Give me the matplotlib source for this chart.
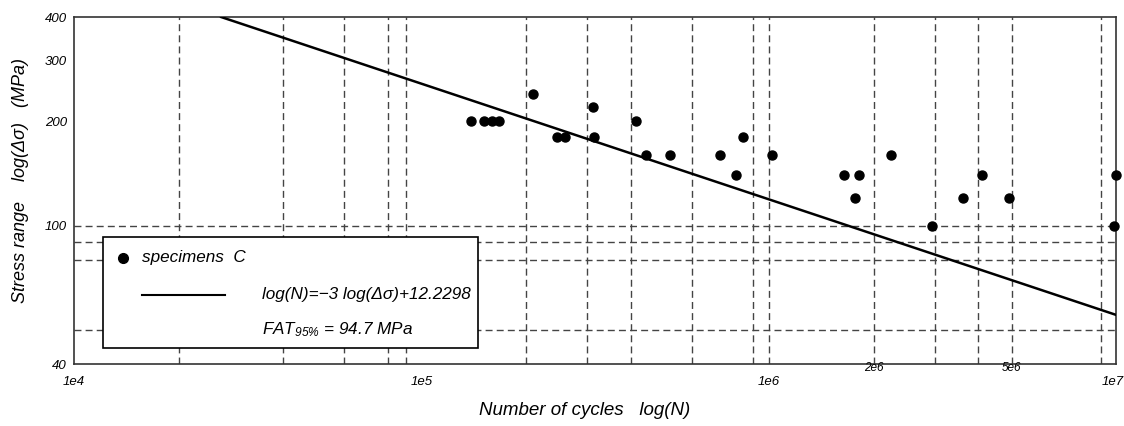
import numpy as np
import matplotlib
matplotlib.use("Agg")
import matplotlib.pyplot as plt
from matplotlib.patches import Rectangle
from matplotlib.transforms import blended_transform_factory

plt.rcParams['font.family'] = ['Liberation Sans', 'DejaVu Sans']
plt.rcParams['font.style'] = 'italic'
plt.rcParams['mathtext.fontset'] = 'custom'
plt.rcParams['mathtext.it'] = 'Liberation Sans:italic'
plt.rcParams['mathtext.rm'] = 'Liberation Sans:italic'

# test results: cycles to failure and stress range (MPa)
cycles = [1.39e5, 1.51e5, 1.60e5, 1.67e5, 2.09e5, 2.45e5, 2.59e5, 3.12e5, 3.14e5,
          4.13e5, 4.42e5, 5.18e5, 7.23e5, 8.04e5, 8.42e5, 1.02e6, 1.64e6, 1.77e6,
          1.81e6, 2.25e6, 2.94e6, 3.62e6, 4.09e6, 4.91e6, 9.85e6, 1.0e7]
stress = [200, 200, 200, 200, 240, 180, 180, 220, 180,
          200, 160, 160, 160, 140, 180, 160, 140, 120,
          140, 160, 100, 120, 140, 120, 100, 140]

# fitted S-N curve: log(N) = slope*log(ds) + intercept
slope = -3
intercept = 12.2298
fat95 = 94.7

# dashed reference lines
n_grid = [2e4, 4e4, 6e4, 8e4, 9e4, 2e5, 3e5, 4e5, 6e5, 9e5, 1e6, 2e6, 3e6, 4e6, 5e6, 9e6]
s_grid = [50, 80, 90, 100]

x_major = [1e4, 1e5, 1e6, 1e7]
x_major_labels = ['1e4', '1e5', '1e6', '1e7']
x_minor = [2e6, 5e6]
x_minor_labels = ['2e6', '5e6']
y_ticks = [40, 100, 200, 300, 400]
y_labels = ['40', '100', '200', '300', '400']

fig = plt.figure(figsize=(11.24, 4.26), dpi=100)
ax = fig.add_axes([0.0658, 0.1455, 0.9275, 0.8145])
ax.set_xscale('log')
ax.set_yscale('log')
ax.set_xlim(1e4, 1e7)
ax.set_ylim(40, 400)

for n in n_grid:
    ax.axvline(n, color='#444444', lw=1.0, dashes=(5, 3), zorder=1)
for s in s_grid:
    ax.axhline(s, color='#444444', lw=1.0, dashes=(5, 3), zorder=1)

# S-N line from the top of the plot down to 1e7 cycles
n_start = 10 ** (intercept + slope * np.log10(400))
n_line = np.logspace(np.log10(n_start), 7, 50)
s_line = 10 ** ((np.log10(n_line) - intercept) / slope)
ax.plot(n_line, s_line, color='black', lw=1.8, zorder=3)

ax.plot(cycles, stress, 'o', color='black', ms=6.5, zorder=4, clip_on=False)

for sp in ax.spines.values():
    sp.set_color('#333333')
    sp.set_linewidth(1.2)

ax.xaxis.set_major_locator(matplotlib.ticker.NullLocator())
ax.xaxis.set_minor_locator(matplotlib.ticker.NullLocator())
ax.set_yticks(y_ticks)
ax.set_yticklabels(y_labels)
ax.yaxis.set_minor_locator(matplotlib.ticker.NullLocator())
ax.tick_params(axis='y', length=0, pad=5, labelsize=9.5)
for lab in ax.get_yticklabels():
    lab.set_fontstyle('italic')

trans = blended_transform_factory(ax.transData, ax.transAxes)
for n, lab in zip(x_major, x_major_labels):
    ha = 'right' if n == x_major[-1] else 'center'
    dx = 7 if n == x_major[-1] else 0
    ax.annotate(lab, (n, -0.052), xycoords=trans, xytext=(dx * 0.72, 0),
                textcoords='offset points', ha=ha, va='center', fontsize=9.5)
for n, lab in zip(x_minor, x_minor_labels):
    ax.text(n, -0.012, lab, transform=trans, ha='center', va='center', fontsize=8.5)

fig.text(0.52, 0.037, 'Number of cycles   log(N)', ha='center', va='center', fontsize=13.5)
fig.text(0.018, 0.577, 'Stress range    log(\u0394\u03c3)   (MPa)', ha='center', va='center',
         rotation=90, fontsize=13)

# legend box drawn by hand
ax.add_patch(Rectangle((0.0278, 0.046), 0.36, 0.32, transform=ax.transAxes,
                       facecolor='white', edgecolor='black', lw=1.2, zorder=5))
ax.plot([0.0472], [0.3065], 'o', color='black', ms=7, transform=ax.transAxes, zorder=6)
ax.text(0.065, 0.3065, 'specimens  C', transform=ax.transAxes, va='center', fontsize=12.3, zorder=6)
ax.plot([0.065, 0.145], [0.2, 0.2], color='black', lw=1.5, transform=ax.transAxes, zorder=6)
ax.text(0.18, 0.2, 'log(N)=\u22123 log(\u0394\u03c3)+12.2298', transform=ax.transAxes,
        va='center', fontsize=12.3, zorder=6)
ax.text(0.18, 0.1, r'$FAT_{95\%}$' + ' = %.1f MPa' % fat95, transform=ax.transAxes,
        va='center', fontsize=12.3, zorder=6)

fig.savefig('out.png', dpi=100)
